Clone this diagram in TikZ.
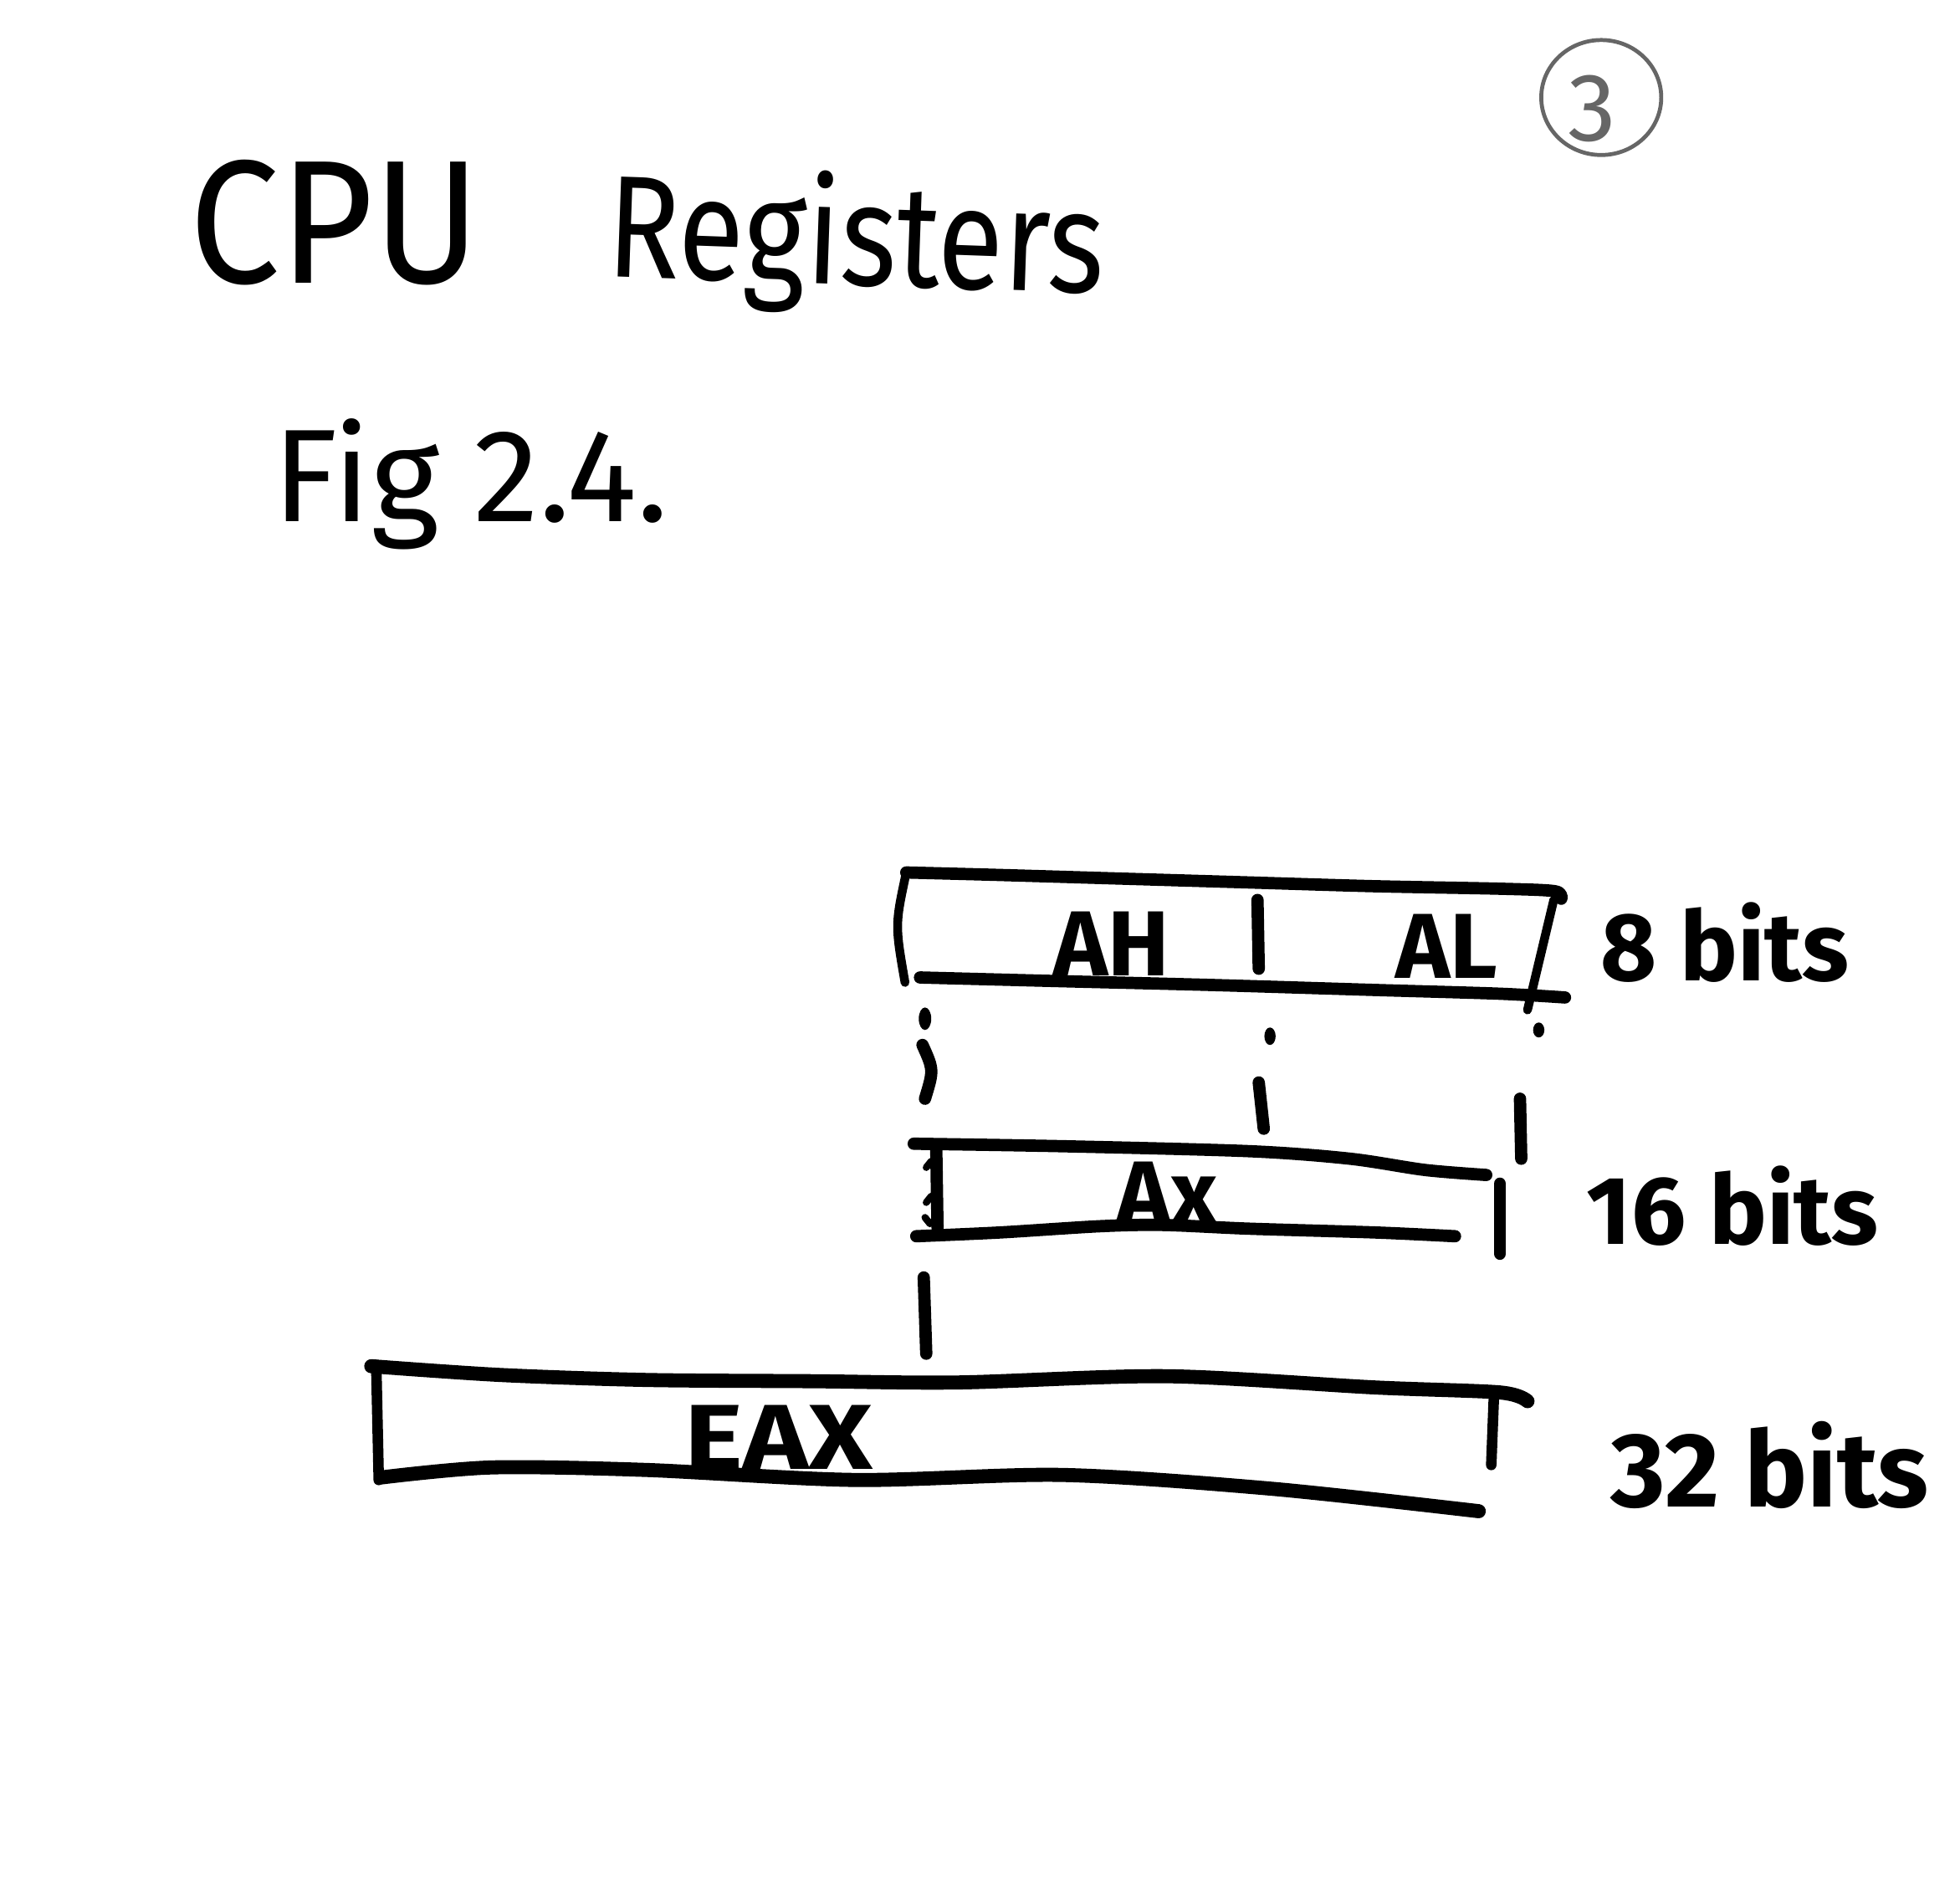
\documentclass[tikz,border=0pt]{standalone}
\usepackage{fontspec}
\setmainfont{Fira Sans}
\begin{document}
\begin{tikzpicture}[x=0.01cm,y=-0.01cm,line cap=round,line join=round,
  ink/.style={line width=3.2pt,black},
  thinink/.style={line width=2.8pt,black},
  edge/.style={line width=2pt,black},
  pencil/.style={line width=0.9pt,black!60},
  titlefont/.style={inner sep=0pt,font=\fontsize{40}{40}\selectfont},
  figfont/.style={inner sep=0pt,font=\fontsize{30}{30}\selectfont},
  bitsfont/.style={inner sep=0pt,font=\bfseries\fontsize{22}{22}\selectfont},
  regfont/.style={inner sep=0pt,font=\bfseries\fontsize{21}{21}\selectfont},
  pagefont/.style={inner sep=0pt,text=black!60,font=\fontsize{22}{22}\selectfont}]
\useasboundingbox (0,0) rectangle (1568,1514);
\fill[white] (0,0) rectangle (1568,1514);

% page number
\draw[pencil] (1281,78) ellipse [x radius=48, y radius=46];
\node[pagefont] (page) at (1274,87) {3};

% title
\node[titlefont] (cpu) at (268,178) {\scalebox{0.92}[1]{CPU}};
\node[titlefont,font=\fontsize{33}{33}\selectfont,anchor=base west,rotate=-2] (registers) at (484,221) {\scalebox{0.83}[1]{Registers}};
\node[figfont,anchor=base west] (fig) at (218,417) {Fig 2.4.};

% 8-bit register AH | AL
\draw[thinink] plot[smooth] coordinates {(725,698) (800,700) (900,703) (1000,706) (1100,709) (1200,711) (1244,713) (1249,719)};
\draw[edge] (725,698) .. controls (716,740) .. (724,786);
\draw[thinink] plot[smooth] coordinates {(736,782) (850,785) (969,788) (1100,792) (1200,795) (1252,798)};
\draw[thinink] (1006,720) -- (1007,775);
\draw[edge] (1243,720) -- (1222,808);
\node[regfont] (ah) at (889,755) {AH};
\node[regfont] (al) at (1157,757) {AL};
\node[bitsfont] (b8) at (1380,754) {8 bits};

% dotted guides
\fill (740,815) ellipse [x radius=5, y radius=9];
\draw[thinink] (738,836) .. controls (747,856) .. (740,879);
\fill (1016,829) ellipse [x radius=4.5, y radius=7];
\draw[thinink] (1007,866) -- (1011,903);
\fill (1231,824) ellipse [x radius=4.5, y radius=6];
\draw[thinink] (1216,879) -- (1217,927);

% 16-bit register AX
\draw[thinink] plot[smooth] coordinates {(731,915) (850,917) (1000,921) (1080,927) (1140,936) (1189,940)};
\draw[thinink] (749,918) -- (750,982);
\draw[line width=1.6pt] (745,929) -- (741,934) (745,957) -- (741,962) (744,979) -- (740,974);
\draw[thinink] plot[smooth] coordinates {(733,989) (800,986) (880,981) (930,980) (1000,983) (1100,986) (1164,989)};
\draw[thinink] (1200,947) -- (1200,1003);
\node[regfont] (ax) at (934,955) {Ax};
\node[bitsfont] (b16) at (1386,965) {16 bits};

\draw[thinink] (739,1022) -- (741,1083);

% 32-bit register EAX
\draw[ink] plot[smooth] coordinates {(297,1093) (400,1100) (517,1104) (650,1105) (767,1106) (933,1101) (1100,1110) (1200,1114) (1222,1121)};
\draw[edge,line width=2.4pt] (301,1092) -- (303,1184);
\draw[ink] plot[smooth] coordinates {(305,1182) (393,1174) (517,1176) (684,1184) (850,1180) (1017,1191) (1183,1209)};
\draw[edge,line width=2.4pt] (1195,1120) -- (1193,1172);
\node[regfont] (eax) at (623,1150) {\scalebox{1.2}[1]{EAX}};
\node[bitsfont,font=\bfseries\fontsize{24}{24}\selectfont] (b32) at (1416,1172) {32 bits};
\end{tikzpicture}
\end{document}
